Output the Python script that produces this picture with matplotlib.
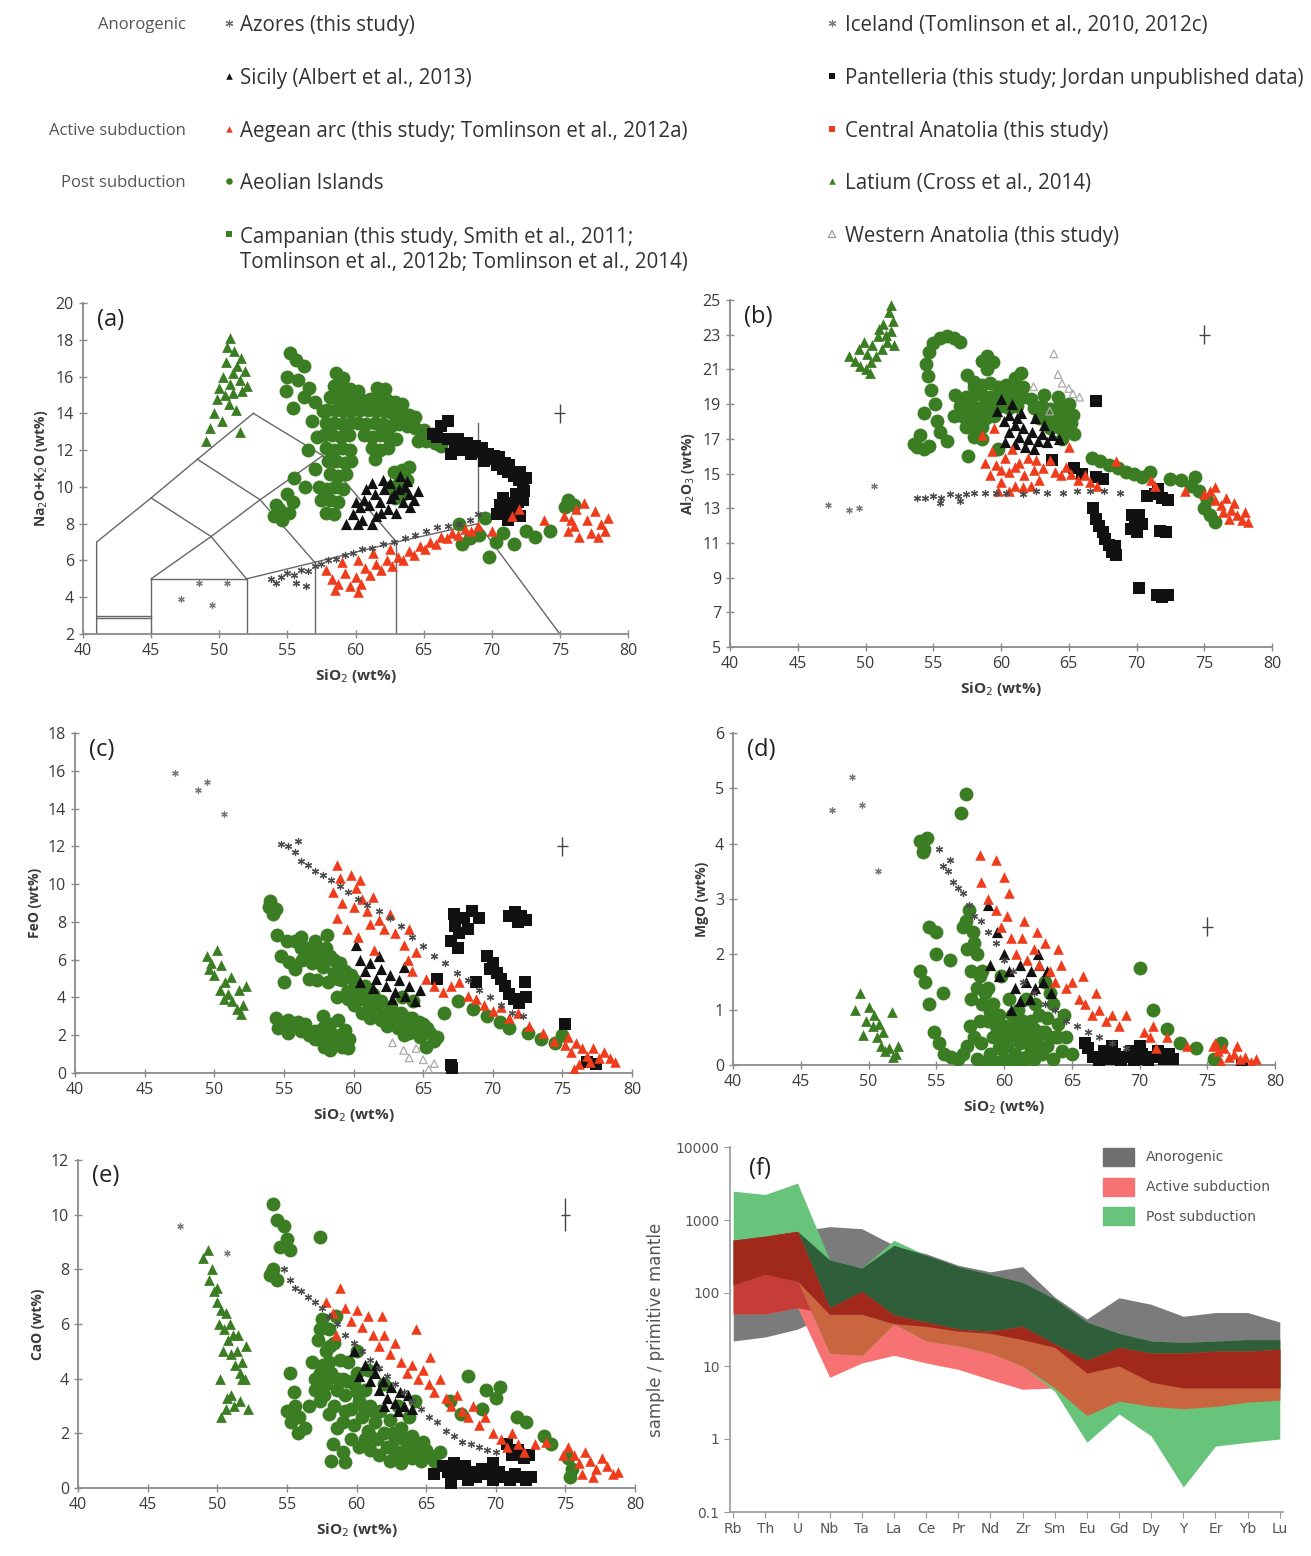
import matplotlib
matplotlib.use("Agg")
import matplotlib.pyplot as plt
from matplotlib.patches import Patch
import numpy as np

plt.rcParams['font.family'] = ['Open Sans', 'DejaVu Sans']

GREEN = '#3b7d22'
RED = '#ee3c1c'
BLACK = '#111111'
GREY = '#555555'

# ---------------- (a) TAS ----------------
tas_lines = [
    [(41, 2), (41, 7), (45, 9.4), (48.4, 11.5), (52.5, 14)],
    [(41, 3), (45, 3)], [(41, 2.85), (45, 2.85)],
    [(45, 2), (45, 5), (52, 5), (52, 2)],
    [(52, 5), (57, 5.9), (63, 7), (69, 8), (75, 2)],
    [(57, 2), (57, 5.9)], [(63, 2), (63, 7)],
    [(45, 9.4), (49.4, 7.3), (52, 5)],
    [(48.4, 11.5), (53, 9.3), (57, 5.9)],
    [(52.5, 14), (57.6, 11.7), (63, 7)],
    [(45, 5), (49.4, 7.3), (53, 9.3), (57.6, 11.7)],
    [(69, 8), (69, 13.5)],
]
a_iceland = [(47.2, 3.9), (49.5, 3.6), (48.5, 4.8), (50.6, 4.8)]
a_azores = [(53.8, 5.0), (54.5, 5.1), (55.0, 5.3), (55.5, 5.2), (56.0, 5.5), (56.5, 5.4), (57.0, 5.7),
            (57.5, 5.8), (58.0, 6.0), (58.6, 6.1), (59.2, 6.3), (59.8, 6.4), (60.5, 6.6), (61.2, 6.7),
            (62.0, 6.9), (62.8, 7.0), (63.6, 7.2), (64.4, 7.4), (65.2, 7.6), (66.0, 7.8), (66.8, 7.9),
            (67.6, 8.0), (68.4, 8.2), (69.0, 8.5), (55.6, 4.8), (56.4, 4.6), (54.2, 4.8)]
a_latium = [(49.0, 12.5), (49.3, 13.2), (49.6, 14.0), (49.8, 14.8), (50.0, 15.4), (50.3, 16.0), (50.5, 16.8),
            (50.6, 17.6), (50.8, 18.1), (51.1, 17.4), (51.3, 16.6), (51.5, 15.8), (51.7, 15.2), (51.9, 16.3),
            (51.0, 15.1), (50.7, 14.5), (50.2, 13.6), (51.2, 14.2), (51.5, 13.0), (50.4, 15.0), (51.6, 17.0),
            (52.0, 15.5), (51.0, 16.2), (50.8, 15.6)]
a_green = [(55.2, 17.3), (55.6, 16.9), (56.2, 16.6), (55.0, 16.0), (55.8, 15.8), (56.6, 15.4), (54.9, 15.2),
           (56.2, 14.9), (57.0, 14.6), (55.4, 14.3), (57.6, 14.1), (56.8, 13.6), (57.2, 12.7), (56.5, 12.0),
           (57.0, 11.0), (55.5, 10.5), (56.3, 10.0), (55.0, 9.6), (54.2, 9.0), (54.0, 8.4), (54.6, 8.2),
           (55.1, 8.6), (55.4, 9.2), (54.4, 8.8),
           (58.6, 16.2), (59.1, 15.9),
           (58.4, 15.5), (59.0, 15.4), (59.6, 15.3), (60.2, 15.2), (61.6, 15.4), (62.2, 15.3),
           (58.1, 14.9), (58.7, 14.8), (59.3, 14.8), (59.9, 14.7), (60.5, 14.7), (61.1, 14.8), (61.7, 14.8),
           (62.3, 14.7), (62.9, 14.6), (63.4, 14.5),
           (57.9, 14.2), (58.5, 14.2), (59.1, 14.1), (59.7, 14.1), (60.3, 14.2), (60.9, 14.2), (61.5, 14.1),
           (62.1, 14.1), (62.7, 14.0), (63.3, 14.0), (63.9, 13.9), (64.4, 13.8),
           (57.8, 13.5), (58.4, 13.5), (59.0, 13.4), (59.6, 13.5), (60.2, 13.5), (60.8, 13.4), (61.4, 13.5),
           (62.0, 13.4), (62.6, 13.3), (63.2, 13.4), (63.8, 13.3), (64.4, 13.2), (65.0, 13.1), (65.6, 12.9),
           (57.7, 12.8), (58.3, 12.8), (58.9, 12.7), (59.5, 12.8), (60.6, 12.8), (61.2, 12.7), (61.8, 12.8),
           (62.4, 12.7), (63.0, 12.6), (64.6, 12.5), (65.2, 12.5), (65.8, 12.4), (66.3, 12.2),
           (57.8, 12.1), (58.4, 12.0), (59.0, 12.1), (59.6, 12.0), (61.2, 12.1), (61.8, 12.0), (62.4, 12.1),
           (58.0, 11.4), (58.6, 11.4), (59.2, 11.3), (59.7, 11.4), (61.4, 11.5),
           (58.1, 10.7), (58.7, 10.6), (59.3, 10.7), (62.8, 10.8), (63.4, 10.9), (63.9, 11.1),
           (57.3, 10.0), (57.9, 9.9), (58.5, 10.0), (59.1, 9.9), (62.6, 10.0), (63.2, 10.2), (63.8, 10.4),
           (57.5, 9.3), (58.1, 9.3), (58.7, 9.2), (62.9, 9.4), (63.5, 9.6), (57.8, 8.6), (58.4, 8.5),
           (67.8, 6.9), (68.4, 7.2), (69.1, 7.4), (69.8, 6.2), (70.3, 7.0), (70.8, 7.5), (71.6, 6.9),
           (72.5, 7.6), (73.2, 7.3), (74.3, 7.6), (75.6, 9.3), (76.0, 9.0), (75.4, 8.9), (67.6, 8.0), (69.5, 8.3)]
a_pantelleria = [(65.7, 12.9), (66.3, 13.3), (66.8, 12.6), (67.3, 12.2), (67.9, 12.0), (68.5, 11.8), (69.0, 11.9),
                 (69.4, 11.4), (69.9, 11.5), (70.4, 11.2), (70.8, 11.0), (71.2, 10.8), (71.6, 10.6), (72.0, 10.4),
                 (72.3, 10.0), (68.2, 12.4), (69.3, 12.1), (70.2, 11.7), (71.0, 11.3), (67.0, 11.8), (66.8, 13.6),
                 (70.6, 9.0), (71.0, 8.6), (71.4, 9.1), (71.8, 8.8), (72.1, 8.4), (71.2, 8.2), (72.3, 9.3),
                 (70.8, 9.4), (71.8, 9.6), (66.0, 12.7), (67.5, 12.6), (68.0, 12.0), (68.8, 12.2), (69.7, 11.8),
                 (70.5, 11.6), (71.3, 11.2), (72.1, 10.8), (72.5, 10.5), (72.4, 9.8), (71.9, 9.2), (70.4, 8.5)]
a_sicily = [(59.3, 8.0), (59.8, 8.5), (60.3, 8.9), (60.6, 9.3), (61.0, 9.0), (61.4, 9.6), (61.8, 9.2),
            (62.1, 9.9), (62.5, 10.2), (62.8, 9.6), (63.2, 9.9), (63.5, 9.2), (63.9, 9.6), (64.3, 9.3),
            (62.4, 8.8), (61.5, 8.4), (60.5, 8.2), (63.0, 8.6), (64.6, 9.8), (62.0, 10.4), (63.3, 10.6),
            (60.8, 9.9), (61.2, 8.0), (60.0, 9.2), (61.2, 10.2), (62.6, 9.4), (63.6, 10.0), (64.0, 8.9),
            (61.9, 8.6), (63.8, 10.3), (60.2, 8.0)]
a_red = [(57.8, 5.5), (58.3, 5.0), (58.7, 4.7), (59.2, 5.3), (59.6, 4.6), (60.0, 5.1), (60.4, 4.7), (60.7, 5.6),
         (61.1, 5.2), (61.5, 5.8), (61.9, 5.5), (62.3, 6.0), (62.7, 5.7), (63.1, 6.2), (63.5, 6.0), (63.9, 6.5),
         (64.3, 6.3), (64.7, 6.8), (65.1, 6.6), (65.5, 7.0), (65.9, 6.9), (66.3, 7.3), (66.7, 7.2), (67.1, 7.5),
         (67.5, 7.4), (68.0, 7.7), (68.5, 7.6), (69.0, 7.9), (59.0, 5.9), (60.2, 6.0), (61.3, 6.4), (62.5, 6.6),
         (58.5, 4.4), (60.2, 4.3), (70.0, 7.6), (71.5, 8.4), (72.0, 8.8), (73.8, 8.2), (75.6, 7.6), (75.8, 8.2),
         (76.2, 8.8), (76.4, 7.3), (76.8, 9.1), (77.0, 8.2), (77.3, 7.5), (77.6, 8.7), (78.0, 8.0), (78.3, 7.6),
         (78.5, 8.3), (77.8, 7.3), (76.0, 7.9), (75.3, 8.4)]

# ---------------- (b) Al2O3 ----------------
b_iceland = [(47.2, 13.2), (48.8, 12.9), (49.5, 13.0), (50.6, 14.3)]
b_azores = [(53.8, 13.6), (54.4, 13.6), (55.0, 13.7), (55.6, 13.6), (56.2, 13.8), (56.8, 13.7), (57.4, 13.8),
            (58.0, 13.9), (58.8, 13.9), (59.6, 13.9), (60.4, 13.9), (61.6, 13.8), (62.6, 14.0), (63.4, 13.9),
            (64.6, 13.9), (65.6, 14.0), (66.6, 14.0), (67.6, 14.0), (68.8, 13.9), (55.5, 13.3), (57.0, 13.4)]
b_latium = [(48.8, 21.8), (49.2, 21.5), (49.6, 21.2), (50.0, 21.0), (50.4, 21.4), (50.8, 21.8), (51.2, 22.2),
            (51.6, 22.6), (51.9, 23.2), (52.0, 23.8), (51.7, 24.3), (51.9, 24.7), (51.3, 23.6), (50.9, 22.9),
            (50.5, 22.4), (50.1, 21.9), (49.5, 22.2), (51.5, 23.0), (52.1, 22.4), (50.3, 20.8), (51.0, 23.3),
            (49.9, 22.6)]
b_wanatolia = [(63.9, 21.9), (64.2, 20.7), (64.5, 20.2), (65.3, 19.6), (65.8, 19.4), (63.6, 18.6), (62.4, 20.0),
               (65.0, 19.9)]
b_green = [(55.5, 22.8), (56.0, 22.9), (56.5, 22.8), (57.0, 22.6), (55.0, 22.5), (54.7, 22.0), (54.5, 21.3),
           (54.6, 20.6), (54.8, 19.8), (55.1, 19.0), (54.3, 18.5), (55.3, 18.0), (54.0, 17.2), (55.5, 17.4),
           (56.0, 16.9), (53.8, 16.5), (54.3, 16.4), (54.7, 16.6), (53.6, 16.7), (56.6, 19.5), (57.6, 16.0),
           (59.8, 16.4), (58.6, 21.5), (59.0, 21.8), (59.4, 21.4), (59.0, 21.0), (57.5, 20.7), (58.0, 20.3),
           (61.0, 20.5), (61.5, 20.8),
           (58.0, 20.0), (58.6, 20.1), (59.2, 20.2), (59.8, 20.0), (60.4, 20.1), (61.0, 19.9), (61.6, 20.0),
           (57.4, 19.4), (58.0, 19.5), (58.6, 19.5), (59.2, 19.4), (59.8, 19.5), (60.4, 19.4), (61.0, 19.5),
           (61.6, 19.4), (62.2, 19.3), (63.2, 19.5), (64.2, 19.4), (65.0, 19.0),
           (57.0, 18.9), (57.6, 18.9), (58.2, 18.8), (58.8, 18.9), (59.4, 18.8), (60.0, 18.9), (60.6, 18.8),
           (61.2, 18.9), (62.4, 18.8), (63.0, 18.9), (63.6, 18.7), (64.2, 18.8), (64.8, 18.6), (65.3, 18.4),
           (56.5, 18.3), (57.1, 18.3), (57.7, 18.2), (58.3, 18.3), (58.9, 18.2), (59.5, 18.3), (62.8, 18.2),
           (63.4, 18.3), (64.0, 18.1), (64.6, 18.0), (65.2, 17.9),
           (57.4, 17.7), (58.0, 17.6), (58.6, 17.7), (63.6, 17.6), (64.2, 17.7), (64.8, 17.5), (65.4, 17.3),
           (58.0, 17.1), (58.6, 17.0), (64.5, 17.0),
           (66.7, 15.9), (67.3, 15.7), (68.0, 15.5), (68.6, 15.3), (69.2, 15.1), (69.8, 15.0), (70.4, 14.8),
           (71.0, 15.1), (72.5, 14.7), (73.3, 14.6), (74.0, 14.3), (74.3, 14.8), (74.6, 14.0), (75.2, 13.5),
           (75.4, 12.6), (75.8, 12.2), (75.0, 13.0)]
b_sicily = [(59.7, 18.6), (60.0, 19.3), (60.2, 18.0), (60.6, 17.4), (61.0, 17.8), (61.3, 17.1), (61.6, 17.6),
            (62.0, 17.0), (62.3, 17.4), (62.7, 16.9), (63.0, 17.3), (63.4, 16.8), (63.8, 17.2), (61.0, 16.7),
            (61.8, 16.5), (62.4, 16.4), (60.6, 18.4), (64.3, 17.0), (60.3, 16.8), (61.5, 18.5), (62.5, 18.2),
            (63.2, 17.8), (60.8, 19.0), (61.2, 18.2)]
b_pantelleria = [(67.0, 19.2), (66.8, 13.0), (67.0, 12.4), (67.2, 12.0), (67.5, 11.6), (67.7, 11.2), (68.0, 10.9),
                 (68.2, 10.5), (68.5, 10.3), (68.4, 10.8), (69.6, 11.8), (69.9, 12.3), (70.2, 12.6), (70.4, 12.1),
                 (70.0, 11.6), (69.7, 12.6), (71.7, 11.7), (72.2, 11.6), (70.2, 8.4), (71.5, 8.0), (71.9, 7.9),
                 (72.3, 8.0), (70.8, 13.7), (71.4, 13.8), (71.9, 13.6), (72.3, 13.5), (71.6, 14.1), (65.4, 15.3),
                 (66.0, 15.0), (67.0, 14.8), (67.5, 14.7), (63.8, 15.8)]
b_red = [(58.8, 15.6), (59.2, 14.9), (59.6, 15.5), (60.0, 14.5), (60.3, 15.9), (60.6, 15.1), (61.0, 14.3),
         (61.3, 15.6), (61.7, 14.9), (62.0, 15.9), (62.4, 15.2), (62.8, 14.6), (63.1, 15.3), (63.6, 15.8),
         (64.0, 15.1), (64.4, 14.9), (64.8, 15.4), (65.2, 15.0), (65.7, 14.6), (66.2, 14.9), (66.6, 14.5),
         (67.1, 14.3), (59.3, 16.3), (60.8, 16.4), (58.6, 17.2), (59.5, 17.6), (65.0, 16.5), (68.5, 15.7),
         (71.1, 14.6), (71.4, 14.3), (73.6, 14.0), (75.0, 13.8), (75.4, 14.0), (75.8, 13.5), (76.2, 13.2),
         (76.6, 13.6), (77.0, 12.9), (77.4, 12.6), (77.8, 12.3), (78.2, 12.2), (76.4, 12.8), (77.2, 13.3),
         (75.8, 14.2), (76.8, 12.4), (78.0, 12.8), (59.8, 14.0), (60.6, 14.0), (61.6, 14.2), (62.2, 14.3),
         (60.0, 15.2), (61.0, 15.4), (62.6, 15.8)]

# ---------------- (c) FeO ----------------
c_iceland = [(47.2, 15.9), (48.8, 15.0), (49.5, 15.4), (50.7, 13.7)]
c_azores = [(54.8, 12.1), (55.3, 12.0), (55.8, 11.7), (56.2, 11.2), (56.7, 11.0), (57.2, 10.7), (57.8, 10.5),
            (58.4, 10.2), (59.0, 9.9), (59.6, 9.6), (60.3, 9.2), (61.0, 8.9), (61.8, 8.6), (62.6, 8.2),
            (63.4, 7.8), (64.2, 7.2), (65.0, 6.7), (65.8, 6.2), (66.6, 5.8), (67.4, 5.3), (68.2, 4.9),
            (69.0, 4.4), (69.8, 4.0), (70.6, 3.6), (71.4, 3.2), (72.2, 3.0), (56.0, 12.3)]
c_latium = [(49.5, 6.2), (49.8, 5.8), (50.2, 6.5), (50.0, 5.2), (50.5, 5.7), (50.8, 4.8), (50.4, 4.4),
            (51.0, 4.2), (51.3, 3.8), (51.6, 3.4), (51.9, 3.1), (52.1, 3.6), (51.2, 5.1), (50.7, 3.9),
            (52.3, 4.6), (49.6, 5.5), (51.8, 4.4)]
c_wanatolia = [(62.8, 1.6), (63.6, 1.2), (64.0, 0.8), (64.5, 1.3), (65.0, 0.7), (65.4, 0.2), (65.8, 0.5)]
c_green = [(53.9, 8.8), (54.2, 8.4), (54.0, 9.1), (54.4, 8.7), (54.5, 7.3), (55.2, 7.0), (56.2, 7.2),
           (55.4, 5.9), (55.0, 4.8), (55.8, 5.5), (54.8, 6.2),
           (54.4, 2.9), (55.0, 2.6), (55.6, 2.4), (56.2, 2.2), (56.8, 2.0), (55.3, 2.1), (56.5, 2.6),
           (54.6, 2.4), (55.3, 2.8), (56.0, 2.7), (56.6, 2.3), (57.2, 2.2), (57.2, 1.8),
           (57.8, 3.0), (58.3, 2.6), (58.9, 2.8), (59.4, 2.3), (58.0, 1.9), (58.6, 1.5), (59.2, 1.4),
           (59.7, 1.8), (57.8, 2.4), (57.9, 1.4), (58.4, 2.1), (59.0, 2.0), (59.6, 1.3), (58.3, 1.2),
           (56.6, 6.6), (57.2, 7.0), (57.6, 6.4), (57.0, 5.8), (57.8, 5.6), (58.3, 6.2), (58.6, 5.3),
           (58.2, 4.8), (59.0, 5.8), (59.2, 4.9), (59.5, 4.3), (59.8, 5.2), (60.2, 4.5), (60.4, 3.9),
           (60.8, 4.6), (61.0, 3.8), (61.4, 4.2), (61.6, 3.4), (62.0, 3.8), (62.3, 3.1), (62.7, 3.5),
           (63.0, 2.8), (63.4, 3.2), (63.8, 2.5), (64.2, 2.9), (64.6, 2.3), (65.0, 2.6), (65.5, 2.1),
           (65.8, 1.7), (60.0, 3.6), (61.2, 2.9), (62.4, 2.5), (63.6, 2.0), (58.8, 4.0), (57.4, 4.9),
           (56.8, 5.0), (64.3, 3.8), (63.5, 4.0), (56.3, 6.0), (58.1, 7.3),
           (57.5, 6.0), (58.0, 6.6), (58.6, 6.0), (59.4, 5.4), (60.0, 4.9), (60.6, 4.2), (61.2, 3.5),
           (61.8, 3.8), (62.5, 2.9), (63.2, 2.4), (64.0, 2.1), (64.8, 1.9), (65.3, 2.4), (59.6, 3.9),
           (60.6, 3.2), (62.0, 2.8), (57.0, 6.4), (58.9, 5.0), (59.9, 4.4), (61.4, 3.0), (62.9, 3.0),
           (63.9, 2.9), (56.2, 6.6), (55.8, 7.0), (56.9, 6.1), (64.7, 2.7),
           (66.5, 3.2), (67.5, 3.8), (68.6, 3.4), (69.6, 3.0), (70.5, 2.7), (71.2, 2.4), (72.5, 2.1),
           (73.5, 1.8), (74.5, 1.6), (75.0, 2.0), (65.2, 1.4), (66.0, 1.9)]
c_sicily = [(60.2, 6.8), (60.5, 6.0), (60.8, 5.4), (61.2, 5.8), (61.6, 5.0), (62.0, 5.5), (62.3, 4.6),
            (62.6, 5.2), (63.0, 4.3), (63.3, 4.9), (63.7, 4.1), (64.0, 4.6), (64.4, 3.8), (62.8, 3.9),
            (61.4, 4.5), (60.5, 4.8), (64.8, 4.4), (61.8, 6.2), (63.6, 5.6)]
c_pantelleria = [(67.0, 7.0), (67.3, 7.8), (67.6, 7.4), (67.9, 8.2), (68.2, 7.6), (67.5, 6.6), (68.5, 8.6),
                 (67.2, 8.4), (71.2, 8.3), (71.6, 8.5), (72.0, 8.3), (72.4, 8.1), (71.8, 8.0), (69.0, 8.2),
                 (69.6, 6.2), (70.0, 5.8), (70.3, 5.3), (70.6, 5.0), (69.8, 5.5), (70.9, 4.6), (71.2, 4.2),
                 (71.5, 3.9), (71.9, 3.7), (72.3, 4.8), (72.4, 4.0), (68.8, 4.8), (66.0, 5.0), (75.2, 2.6),
                 (67.0, 0.4), (67.1, 0.25), (76.8, 0.6), (77.4, 0.5)]
c_red = [(58.8, 11.0), (59.0, 10.3), (58.5, 9.6), (59.2, 9.0), (59.8, 10.5), (60.2, 9.8), (60.6, 9.2),
         (60.0, 8.8), (61.0, 8.6), (61.4, 9.3), (61.8, 8.1), (62.2, 7.6), (62.6, 8.4), (63.0, 7.4),
         (60.5, 10.2), (61.2, 7.9), (58.8, 8.2), (59.5, 7.6), (60.3, 7.2), (61.5, 6.5), (63.6, 6.8),
         (63.9, 6.0), (64.2, 5.4), (64.0, 7.6), (64.5, 6.4), (65.2, 5.0), (65.8, 4.6), (66.4, 4.3),
         (67.0, 4.6), (67.6, 4.8), (68.2, 4.1), (68.8, 3.9), (69.4, 3.6), (70.0, 3.3), (70.6, 3.5),
         (71.2, 2.9), (71.8, 3.2), (72.6, 2.5), (73.6, 2.1), (74.4, 1.7), (75.2, 1.5), (75.6, 1.1),
         (76.0, 1.6), (76.4, 1.3), (76.8, 0.9), (77.2, 1.3), (77.6, 0.8), (78.0, 1.1), (78.4, 0.8),
         (78.8, 0.6), (76.2, 0.5), (75.8, 0.2), (77.0, 0.6), (75.4, 1.9)]

# ---------------- (d) MgO ----------------
d_iceland = [(47.3, 4.6), (48.8, 5.2), (49.5, 4.7), (50.7, 3.5)]
d_azores = [(55.2, 3.9), (55.5, 3.6), (55.9, 3.5), (56.2, 3.3), (56.6, 3.2), (57.0, 3.1), (57.4, 2.9),
            (57.8, 2.7), (58.3, 2.6), (58.8, 2.4), (59.4, 2.2), (60.0, 1.9), (60.7, 1.7), (61.4, 1.5),
            (62.2, 1.3), (63.0, 1.1), (63.8, 1.0), (64.6, 0.8), (65.4, 0.7), (66.2, 0.6), (67.0, 0.5),
            (68.0, 0.4), (69.0, 0.3), (56.0, 3.7)]
d_latium = [(49.0, 1.0), (49.4, 1.3), (49.8, 0.8), (50.0, 1.05), (50.3, 0.7), (50.6, 0.5), (50.9, 0.35),
            (51.2, 0.25), (51.5, 0.3), (51.8, 0.15), (52.0, 0.2), (50.4, 0.9), (51.1, 0.6), (51.7, 0.95),
            (50.8, 0.75), (52.2, 0.35), (49.6, 0.55)]
d_green = [(53.8, 4.05), (54.1, 3.9), (54.3, 4.1), (54.0, 3.85), (56.8, 4.55), (57.2, 4.9), (54.5, 2.5),
           (55.0, 2.4), (53.8, 1.7), (54.2, 1.5), (54.5, 1.1), (55.5, 1.3), (55.0, 2.0), (56.0, 1.9),
           (54.8, 0.6), (55.2, 0.4), (55.6, 0.2), (56.1, 0.15), (56.6, 0.1), (57.0, 0.2), (57.5, 0.7),
           (70.0, 1.75), (71.0, 1.0), (72.0, 0.65), (73.0, 0.4), (74.2, 0.3), (75.5, 0.1), (76.0, 0.4),
           (64.0, 0.5), (65.0, 0.2),
           (57.0, 2.5), (57.4, 2.8), (57.3, 2.1), (57.7, 2.4), (57.6, 1.7), (58.0, 2.0), (58.0, 1.4),
           (58.4, 1.7), (58.4, 1.1), (58.8, 1.4), (58.8, 0.8), (59.2, 1.1), (59.2, 0.5), (59.6, 0.9),
           (59.6, 0.3), (60.0, 0.7), (60.0, 0.1), (60.4, 0.5), (60.8, 0.2), (60.8, 0.7), (61.2, 0.4),
           (61.6, 0.15), (61.6, 0.6), (62.0, 0.3), (62.4, 0.5), (62.8, 0.2), (63.2, 0.35), (63.6, 0.1),
           (62.0, 0.8), (62.8, 0.6), (63.2, 0.85), (63.8, 0.5), (64.3, 0.25), (60.4, 1.2), (61.0, 1.0),
           (61.6, 1.2), (62.3, 1.1), (63.0, 1.5), (63.6, 1.1), (64.4, 0.9), (59.0, 0.2), (58.3, 0.4),
           (59.8, 1.6), (58.0, 0.1), (58.6, 0.05), (57.3, 0.35),
           (57.2, 2.6), (57.8, 2.2), (58.2, 1.6), (58.6, 1.3), (59.0, 0.95), (59.4, 0.7), (59.8, 0.5),
           (60.2, 0.35), (60.6, 0.9), (61.0, 0.55), (61.4, 0.8), (61.8, 0.4), (62.2, 0.65), (62.6, 0.35),
           (63.0, 0.6), (63.4, 0.5), (63.4, 1.3), (62.6, 0.9), (64.0, 0.75), (64.6, 0.5), (57.6, 1.2),
           (58.2, 0.8), (57.8, 0.5), (59.4, 0.05), (60.6, 0.05), (61.4, 0.05), (62.2, 0.1)]
d_sicily = [(59.0, 1.8), (59.6, 1.6), (60.0, 2.0), (60.4, 1.7), (60.8, 1.4), (61.2, 1.8), (61.6, 1.5),
            (62.0, 1.7), (62.3, 1.4), (62.6, 1.8), (62.9, 1.5), (63.2, 1.7), (61.9, 1.2), (60.5, 1.0),
            (61.2, 1.15), (62.5, 2.0), (58.8, 2.9), (59.5, 2.4), (63.5, 1.3)]
d_pantelleria = [(66.2, 0.3), (66.6, 0.15), (67.0, 0.05), (67.4, 0.25), (67.8, 0.1), (68.2, 0.2), (68.6, 0.05),
                 (69.0, 0.15), (69.4, 0.25), (69.8, 0.1), (70.2, 0.2), (70.6, 0.05), (71.0, 0.15), (71.4, 0.25),
                 (71.8, 0.1), (72.2, 0.2), (72.5, 0.1), (66.0, 0.4), (68.0, 0.35), (70.0, 0.35), (77.6, 0.0),
                 (69.6, 0.0)]
d_red = [(58.2, 3.8), (59.4, 3.7), (60.0, 3.4), (58.3, 3.3), (58.8, 3.0), (59.4, 2.8), (59.8, 2.5),
         (60.2, 2.7), (60.5, 2.3), (60.9, 2.0), (61.3, 2.3), (61.7, 1.9), (62.2, 2.1), (62.6, 1.8),
         (63.0, 2.2), (63.4, 1.7), (63.8, 1.5), (64.2, 1.8), (64.6, 1.4), (65.0, 1.5), (65.5, 1.2),
         (66.0, 1.1), (66.5, 0.9), (67.0, 1.0), (67.5, 0.8), (68.0, 0.9), (68.5, 0.7), (69.0, 0.9),
         (60.4, 3.1), (61.5, 2.6), (62.4, 2.4), (64.0, 2.1), (65.8, 1.6), (66.8, 1.3), (70.3, 0.6),
         (70.8, 0.5), (71.2, 0.3), (71.0, 0.7), (72.0, 0.5), (73.5, 0.35), (75.4, 0.35), (75.8, 0.25),
         (76.2, 0.3), (76.6, 0.15), (77.0, 0.2), (77.4, 0.1), (77.8, 0.15), (78.2, 0.05), (78.6, 0.1),
         (76.0, 0.05), (75.6, 0.4), (77.2, 0.35)]

# ---------------- (e) CaO ----------------
e_iceland = [(47.3, 9.6), (50.7, 8.6)]
e_azores = [(54.8, 8.0), (55.2, 7.6), (55.6, 7.3), (56.0, 7.2), (56.5, 7.0), (57.0, 6.8), (57.5, 6.6),
            (58.0, 6.3), (58.6, 6.0), (59.2, 5.6), (59.8, 5.3), (60.4, 5.0), (61.0, 4.7), (61.6, 4.4),
            (62.2, 4.1), (62.8, 3.8), (63.4, 3.5), (64.0, 3.2), (64.6, 2.9), (65.2, 2.6), (65.8, 2.4),
            (66.4, 2.1), (67.0, 1.9), (67.6, 1.7), (68.2, 1.6), (68.8, 1.5), (69.4, 1.4), (70.0, 1.3)]
e_latium = [(49.0, 8.4), (49.3, 8.7), (49.6, 8.0), (49.4, 7.6), (49.8, 7.2), (50.0, 6.8), (50.3, 6.5),
            (50.1, 6.0), (50.5, 5.8), (50.8, 5.4), (50.4, 5.0), (51.0, 4.9), (51.3, 4.5), (51.6, 4.2),
            (51.8, 4.6), (52.0, 4.0), (51.2, 3.0), (50.6, 2.9), (51.6, 3.2), (52.2, 2.9), (50.3, 2.6),
            (50.2, 4.0), (51.5, 5.6), (52.1, 5.2), (50.0, 7.3), (50.6, 6.4), (50.9, 6.0), (51.1, 5.6),
            (51.4, 5.0), (51.8, 4.0), (50.7, 3.3), (51.0, 3.4)]
e_green = [(54.0, 10.4), (54.3, 9.8), (54.8, 9.6), (55.0, 9.1), (54.5, 8.8), (54.0, 8.0), (53.8, 7.8),
           (54.3, 7.6), (55.2, 8.7), (57.4, 9.2), (53.9, 7.9),
           (55.0, 2.8), (55.3, 2.4), (55.6, 3.0), (55.9, 2.6), (56.3, 2.2), (55.8, 2.0), (56.6, 3.0),
           (55.2, 4.2), (55.5, 3.5),
           (57.5, 6.2), (58.0, 5.8), (57.2, 5.4), (57.8, 5.0), (58.4, 5.3), (58.8, 4.7), (57.6, 4.5),
           (58.2, 4.2), (59.0, 4.0), (59.4, 4.6), (57.0, 4.0), (58.6, 3.6), (59.2, 3.4), (59.8, 3.8),
           (60.2, 3.2), (60.6, 3.6), (59.6, 2.9), (60.4, 2.6), (61.0, 3.0), (61.3, 2.4), (60.8, 2.1),
           (61.7, 2.8), (62.0, 2.0), (62.4, 2.5), (62.8, 1.8), (63.2, 2.2), (63.6, 1.6), (64.0, 1.9),
           (64.4, 1.4), (64.8, 1.7), (65.2, 1.2), (65.6, 1.0), (66.0, 1.3), (59.0, 2.4), (59.6, 1.8),
           (60.2, 1.5), (61.0, 1.4), (61.6, 1.2), (62.4, 1.0), (63.2, 0.9), (63.0, 1.3), (57.4, 3.2),
           (58.0, 2.7), (58.6, 2.2), (58.3, 1.6), (59.0, 1.3), (57.0, 3.6), (56.8, 4.6), (58.5, 6.3),
           (60.0, 5.0), (60.8, 4.3), (62.0, 3.8), (63.0, 3.0), (64.2, 3.2), (63.8, 2.6),
           (57.4, 5.8), (58.1, 5.2), (58.7, 4.0), (59.3, 3.9), (60.0, 3.5), (60.5, 3.0), (61.2, 2.8),
           (61.5, 1.8), (62.2, 1.5), (62.8, 1.3), (63.4, 1.2), (64.0, 1.1), (64.6, 1.0), (59.8, 2.3),
           (60.6, 1.8), (59.2, 2.8), (58.4, 3.0), (57.8, 3.8), (57.4, 4.2), (62.6, 2.0), (63.4, 1.8),
           (64.2, 1.5), (65.0, 1.4), (58.2, 1.0), (59.2, 0.95), (61.0, 1.9), (60.0, 4.2), (58.0, 4.6),
           (57.7, 3.4),
           (68.0, 4.1), (69.3, 3.6), (70.0, 3.3), (70.3, 3.7), (71.5, 2.6), (72.2, 2.4), (73.5, 1.9),
           (74.0, 1.6), (75.2, 1.1), (75.5, 0.7), (75.3, 0.4), (66.7, 3.2), (67.5, 2.7), (69.0, 2.9)]
e_sicily = [(60.6, 4.5), (61.0, 3.9), (61.3, 4.2), (61.6, 3.6), (61.9, 3.9), (62.2, 3.3), (62.5, 3.7),
            (62.8, 3.1), (63.1, 3.5), (63.4, 3.0), (63.7, 3.4), (64.0, 2.9), (61.4, 4.5), (62.0, 3.0),
            (63.0, 2.8), (59.8, 5.0), (60.2, 4.1)]
e_pantelleria = [(66.2, 0.8), (66.6, 0.6), (67.0, 0.9), (67.4, 0.5), (67.8, 0.8), (68.2, 0.6), (68.6, 0.4),
                 (69.0, 0.7), (69.4, 0.5), (69.8, 0.3), (70.2, 0.6), (70.6, 0.4), (71.0, 0.3), (71.4, 0.5),
                 (71.8, 0.4), (72.2, 0.3), (72.5, 0.4), (66.8, 0.15), (69.8, 0.9), (71.2, 1.2), (71.6, 1.4),
                 (72.0, 1.1), (72.4, 1.2), (70.8, 1.6), (65.6, 0.5), (68.0, 0.3)]
e_red = [(57.8, 6.8), (58.3, 6.4), (58.8, 7.3), (59.2, 6.6), (59.6, 6.1), (60.0, 6.5), (60.4, 5.9),
         (60.8, 6.3), (61.2, 5.6), (61.6, 5.2), (62.0, 5.6), (62.4, 4.9), (62.8, 5.3), (63.2, 4.6),
         (63.6, 4.2), (64.0, 4.5), (64.4, 4.0), (64.8, 4.3), (65.2, 3.8), (65.6, 3.5), (66.0, 4.0),
         (66.4, 3.3), (66.8, 3.0), (67.2, 3.4), (67.6, 2.8), (68.0, 2.6), (68.4, 3.0), (68.8, 2.3),
         (69.2, 2.6), (69.8, 2.0), (70.4, 1.8), (70.8, 1.5), (71.2, 2.0), (71.6, 1.6), (72.0, 1.3),
         (64.3, 5.8), (65.3, 4.8), (58.5, 5.6), (61.8, 6.3), (72.8, 1.6), (73.6, 1.7), (74.8, 1.2),
         (75.2, 1.5), (75.6, 1.2), (76.0, 0.9), (76.4, 1.3), (76.8, 1.0), (77.2, 0.7), (77.6, 1.1),
         (78.0, 0.8), (78.4, 0.5), (78.8, 0.6), (77.0, 0.4), (76.2, 0.5)]

# ---------------- (f) spider diagram envelopes ----------------
elements = ['Rb', 'Th', 'U', 'Nb', 'Ta', 'La', 'Ce', 'Pr', 'Nd', 'Zr', 'Sm', 'Eu', 'Gd', 'Dy', 'Y', 'Er', 'Yb', 'Lu']
anoro_lo = [22, 25, 32, 51, 51, 38, 35, 30, 28, 23, 18, 8, 10, 6, 5, 5, 5, 5]
anoro_hi = [530, 600, 700, 810, 760, 450, 345, 240, 195, 230, 88, 44, 86, 70, 48, 54, 54, 40]
active_lo = [52, 52, 63, 7, 11, 14, 11, 9, 6.5, 4.8, 5, 2.1, 3.3, 2.8, 2.6, 2.8, 3.2, 3.4]
active_hi = [530, 600, 700, 63, 105, 50, 40, 32, 30, 35, 20, 12, 18, 15, 15, 16, 16, 17]
post_lo = [130, 180, 145, 15, 14, 38, 22, 19, 15, 10, 4.5, 0.9, 2.2, 1.1, 0.22, 0.8, 0.9, 1.0]
post_hi = [2480, 2240, 3200, 284, 220, 527, 330, 230, 180, 140, 83, 40, 28, 22, 21, 22, 23, 23]

cross_pos = {'a': (75, 14), 'b': (75, 23), 'c': (75, 12), 'd': (75, 2.5), 'e': (75, 10)}

fig = plt.figure(figsize=(13.11, 15.56), dpi=100)


def frac(l, t, r, b):
    W, H = 1311, 1556
    return [l / W, 1 - b / H, (r - l) / W, (b - t) / H]


def style(ax, ylim, yticks, ylabel):
    ax.set_xlim(40, 80)
    ax.set_ylim(*ylim)
    ax.set_xticks(range(40, 81, 5))
    ax.set_yticks(yticks)
    for s in ['top', 'right']:
        ax.spines[s].set_visible(False)
    for s in ['left', 'bottom']:
        ax.spines[s].set_color('#8a8a8a')
        ax.spines[s].set_linewidth(1.3)
    ax.tick_params(direction='inout', length=6, color='#8a8a8a', labelsize=11.5, labelcolor='#3a3a3a', width=1)
    ax.set_xlabel('SiO$_2$ (wt%)', fontsize=11, fontweight='bold', color='#3a3a3a', labelpad=6)
    ax.set_ylabel(ylabel, fontsize=10, fontweight='bold', color='#3a3a3a', labelpad=4)


def pts(ax, data, marker, color, s, **kw):
    x, y = zip(*data)
    ax.scatter(x, y, marker=marker, s=s, c=color, linewidths=0, zorder=3, **kw)


def star(ax, data, color, s):
    x, y = zip(*data)
    ax.scatter(x, y, marker=(6, 2, 0), s=s, c=color, linewidths=0.9, zorder=4)


def cross(ax, key, yerr=0.5, xerr=0.4):
    cx, cy = cross_pos[key]
    ax.errorbar([cx], [cy], xerr=xerr, yerr=yerr, fmt='none', ecolor='#444444', elinewidth=1, zorder=5)


def panel(ax, letter):
    ax.text(0.025, 0.95, '(%s)' % letter, transform=ax.transAxes, fontsize=17, color='#222222',
            ha='left', va='center')


panels = [
    ('a', frac(83, 303, 628, 634), (2, 20), range(2, 21, 2), 'Na$_2$O+K$_2$O (wt%)',
     a_iceland, a_azores, a_latium, a_green, a_sicily, a_pantelleria, a_red, None),
    ('b', frac(730, 300, 1272, 647), (5, 25), range(5, 26, 2), 'Al$_2$O$_3$ (wt%)',
     b_iceland, b_azores, b_latium, b_green, b_sicily, b_pantelleria, b_red, b_wanatolia),
    ('c', frac(75, 733, 632, 1073), (0, 18), range(0, 19, 2), 'FeO (wt%)',
     c_iceland, c_azores, c_latium, c_green, c_sicily, c_pantelleria, c_red, c_wanatolia),
    ('d', frac(733, 733, 1275, 1065), (0, 6), range(0, 7), 'MgO (wt%)',
     d_iceland, d_azores, d_latium, d_green, d_sicily, d_pantelleria, d_red, None),
    ('e', frac(78, 1160, 635, 1488), (0, 12), range(0, 13, 2), 'CaO (wt%)',
     e_iceland, e_azores, e_latium, e_green, e_sicily, e_pantelleria, e_red, None),
]

for (key, pos, ylim, yt, ylab, ice, azo, lat, grn, sic, pan, red, wan) in panels:
    ax = fig.add_axes(pos)
    style(ax, ylim, yt, ylab)
    if key == 'a':
        for seg in tas_lines:
            xs, ys = zip(*seg)
            ax.plot(xs, ys, color='#666666', lw=1, zorder=2)
    pts(ax, grn, 'o', GREEN, 100)
    pts(ax, lat, '^', GREEN, 60)
    pts(ax, pan, 's', BLACK, 80)
    pts(ax, sic, '^', BLACK, 65)
    pts(ax, red, '^', RED, 58)
    star(ax, azo, '#4a4a4a', 20)
    star(ax, ice, '#777777', 16)
    if wan is not None:
        x, y = zip(*wan)
        ax.scatter(x, y, marker='^', s=30, facecolors='none', edgecolors='#aaaaaa', linewidths=0.9, zorder=4)
    if key == 'e':
        cross(ax, key, yerr=0.6, xerr=0.3)
    else:
        cross(ax, key, yerr=0.5 * (ylim[1] - ylim[0]) / 18, xerr=0.4)
    panel(ax, key)

# ---------------- (f) ----------------
axf = fig.add_axes(frac(730, 1147, 1283, 1512))
xi = np.arange(len(elements))
env = {'g': (np.array(anoro_lo, float), np.array(anoro_hi, float)),
       'r': (np.array(active_lo, float), np.array(active_hi, float)),
       'p': (np.array(post_lo, float), np.array(post_hi, float))}
layers = [(('g',), '#7b7b7b'), (('r',), '#f77272'), (('p',), '#69c47b'),
          (('g', 'r'), '#c63c36'), (('g', 'p'), '#2f5e3b'), (('r', 'p'), '#c9653f'),
          (('g', 'r', 'p'), '#a0291c')]
for keys, col in layers:
    lo = np.max([env[k][0] for k in keys], axis=0)
    hi = np.min([env[k][1] for k in keys], axis=0)
    axf.fill_between(xi, lo, hi, where=hi > lo, interpolate=True, color=col, lw=0)
axf.set_yscale('log')
axf.set_ylim(0.1, 10000)
axf.set_xlim(-0.1, 17.1)
axf.set_yticks([0.1, 1, 10, 100, 1000, 10000])
axf.set_yticklabels(['0.1', '1', '10', '100', '1000', '10000'])
axf.minorticks_off()
axf.set_xticks(xi)
axf.set_xticklabels(elements)
for s in ['top', 'right']:
    axf.spines[s].set_visible(False)
for s in ['left', 'bottom']:
    axf.spines[s].set_color('#999999')
    axf.spines[s].set_linewidth(1.2)
axf.tick_params(direction='out', length=4, color='#999999', labelsize=10, labelcolor='#555555')
for t in axf.get_xticklabels() + axf.get_yticklabels():
    t.set_family('DejaVu Sans')
axf.set_ylabel('sample / primitive mantle', fontsize=12, color='#555555', family='DejaVu Sans', labelpad=8)
axf.text(0.035, 0.94, '(f)', transform=axf.transAxes, fontsize=17, color='#222222', ha='left', va='center')
handles = [Patch(color='#707070', label='Anorogenic'), Patch(color='#f77272', label='Active subduction'),
           Patch(color='#69c47b', label='Post subduction')]
leg = axf.legend(handles=handles, loc='upper left', bbox_to_anchor=(1103 / 1311, 1 - 1148 / 1556),
                 bbox_transform=fig.transFigure, frameon=False, borderpad=0, borderaxespad=0,
                 prop={'family': 'DejaVu Sans', 'size': 10},
                 handlelength=2.2, handleheight=1.6, labelspacing=0.85, handletextpad=0.9)
for t in leg.get_texts():
    t.set_color('#555555')

# ---------------- header legend ----------------
H = 1556
groups = [('Anorogenic', 25), ('Active subduction', 131), ('Post subduction', 183)]
for txt, y in groups:
    fig.text(186 / 1311, 1 - y / H, txt, ha='right', va='center', fontsize=12, color='#555555')

left_entries = [('Azores (this study)', 25, 'star', '#666666'),
                ('Sicily (Albert et al., 2013)', 78, '^', BLACK),
                ('Aegean arc (this study; Tomlinson et al., 2012a)', 131, '^', RED),
                ('Aeolian Islands', 183, 'o', GREEN),
                ('Campanian (this study, Smith et al., 2011;\nTomlinson et al., 2012b; Tomlinson et al., 2014)', 250, 's', GREEN)]
right_entries = [('Iceland (Tomlinson et al., 2010, 2012c)', 25, 'star', '#777777'),
                 ('Pantelleria (this study; Jordan unpublished data)', 78, 's', BLACK),
                 ('Central Anatolia (this study)', 131, 's', RED),
                 ('Latium (Cross et al., 2014)', 183, '^', GREEN),
                 ('Western Anatolia (this study)', 236, 'open', '#999999')]
hax = fig.add_axes([0, 0, 1, 1], zorder=-1)
hax.set_xlim(0, 1311)
hax.set_ylim(H, 0)
hax.axis('off')
for entries, mx, tx in [(left_entries, 229, 240), (right_entries, 832, 845)]:
    for txt, y, m, col in entries:
        my = y if '\n' not in txt else 236
        if m == 'star':
            hax.scatter([mx], [my - 2], marker=(6, 2, 0), s=22, c=col, linewidths=0.8)
        elif m == 'open':
            hax.scatter([mx], [my - 2], marker='^', s=26, facecolors='none', edgecolors=col, linewidths=0.9)
        else:
            hax.scatter([mx], [my - 2], marker=m, s=22, c=col, linewidths=0)
        hax.text(tx, y, txt, ha='left', va='center', fontsize=14.8, color='#333333', linespacing=1.3)

fig.savefig('out.png', dpi=100)
